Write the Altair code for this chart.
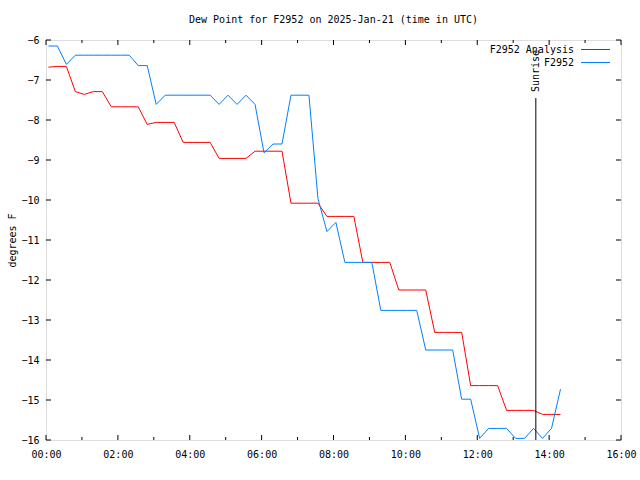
import altair as alt
import pandas as pd

# ---------------- data ----------------
title_text = "Dew Point for F2952 on 2025-Jan-21 (time in UTC)"
series_names = ["F2952 Analysis", "F2952"]
series_colors = ["#ff0000", "#0080ff"]

# sampling grid: minutes after 00:00 UTC
start_minute = 4
step_minute = 15

analysis_vals = [
    -6.68, -6.66, -6.66, -7.29, -7.36, -7.29, -7.29, -7.67, -7.67, -7.67,
    -7.67, -8.11, -8.06, -8.06, -8.06, -8.56, -8.56, -8.56, -8.56, -8.96,
    -8.96, -8.96, -8.96, -8.78, -8.78, -8.78, -8.78, -10.08, -10.08, -10.08,
    -10.08, -10.41, -10.41, -10.41, -10.41, -11.56, -11.56, -11.56, -11.56, -12.25,
    -12.25, -12.25, -12.25, -13.31, -13.31, -13.31, -13.31, -14.64, -14.64, -14.64,
    -14.64, -15.26, -15.26, -15.26, -15.26, -15.36, -15.36, -15.36,
]
obs_vals = [
    -6.15, -6.15, -6.61, -6.38, -6.38, -6.38, -6.38, -6.38, -6.38, -6.38,
    -6.64, -6.64, -7.61, -7.38, -7.38, -7.38, -7.38, -7.38, -7.38, -7.61,
    -7.38, -7.61, -7.38, -7.61, -8.82, -8.60, -8.60, -7.38, -7.38, -7.38,
    -9.96, -10.79, -10.56, -11.56, -11.56, -11.56, -11.56, -12.76, -12.76, -12.76,
    -12.76, -12.76, -13.75, -13.75, -13.75, -13.75, -14.98, -14.98, -15.96, -15.71,
    -15.71, -15.71, -15.96, -15.96, -15.71, -15.96, -15.71, -14.73,
]

x_major = [0, 2, 4, 6, 8, 10, 12, 14, 16]
x_minor = [1, 3, 5, 7, 9, 11, 13, 15]
y_ticks = [-16, -15, -14, -13, -12, -11, -10, -9, -8, -7, -6]

sunrise_hour = 13.63
sunrise_top = -7.45

# ---------------- frames ----------------
def series_frame(vals):
    return pd.DataFrame({
        "h": [(start_minute + step_minute * i) / 60.0 for i in range(len(vals))],
        "v": vals,
    })

df_an = series_frame(analysis_vals)
df_ob = series_frame(obs_vals)
df_xmaj = pd.DataFrame({"h": x_major})
df_xmin = pd.DataFrame({"h": x_minor})
df_y = pd.DataFrame({"v": y_ticks})
df_sun = pd.DataFrame({"h": [sunrise_hour], "v": [sunrise_top], "v2": [-16.0]})

FONT = "DejaVu Sans Mono"
FS = 10
W, H = 575, 400

xscale = alt.Scale(domain=[0, 16], nice=False, zero=False)
yscale = alt.Scale(domain=[-16, -6], nice=False, zero=False)

X = alt.X("h:Q", scale=xscale, axis=alt.Axis(
    values=x_major, title=None, grid=False, ticks=False, tickSize=0, domain=False,
    labelExpr="(datum.value < 10 ? '0' : '') + datum.value + ':00'",
    labelFont=FONT, labelFontSize=FS, labelColor="black", labelPadding=9,
    labelFlush=False, labelOverlap=False))
Y = alt.Y("v:Q", scale=yscale, axis=alt.Axis(
    values=y_ticks, format="d", grid=False, ticks=False, tickSize=0, domain=False,
    labelFont=FONT, labelFontSize=FS, labelColor="black", labelPadding=7,
    labelFlush=False, labelOverlap=False,
    title="degrees F", titleFont=FONT, titleFontSize=FS, titleFontWeight="normal",
    titleColor="black", titleAngle=270, titleX=-34, titleY=200,
    titleAlign="center", titleBaseline="middle"))

line_an = alt.Chart(df_an).mark_line(color=series_colors[0], strokeWidth=1).encode(x=X, y=Y)
line_ob = alt.Chart(df_ob).mark_line(color=series_colors[1], strokeWidth=1).encode(x=X, y=Y)

tick_color = "black"
xmaj_b = alt.Chart(df_xmaj).mark_rule(color=tick_color, strokeWidth=1).encode(x=X, y=alt.value(H), y2=alt.value(H - 5))
xmaj_t = alt.Chart(df_xmaj).mark_rule(color=tick_color, strokeWidth=1).encode(x=X, y=alt.value(0), y2=alt.value(5))
xmin_b = alt.Chart(df_xmin).mark_rule(color=tick_color, strokeWidth=1).encode(x=X, y=alt.value(H), y2=alt.value(H - 3))
xmin_t = alt.Chart(df_xmin).mark_rule(color=tick_color, strokeWidth=1).encode(x=X, y=alt.value(0), y2=alt.value(3))
y_l = alt.Chart(df_y).mark_rule(color=tick_color, strokeWidth=1).encode(y=Y, x=alt.value(0), x2=alt.value(5))
y_r = alt.Chart(df_y).mark_rule(color=tick_color, strokeWidth=1).encode(y=Y, x=alt.value(W), x2=alt.value(W - 5))

sun_rule = alt.Chart(df_sun).mark_rule(color="black", strokeWidth=1).encode(
    x=X, y=Y, y2="v2:Q")
sun_text = alt.Chart(df_sun).mark_text(
    text="Sunrise", angle=270, align="center", baseline="middle",
    font=FONT, fontSize=FS, color="black").encode(x=X, y=alt.value(31))

# legend (gnuplot style: label left of sample line)
leg_layers = []
for i, (name, col) in enumerate(zip(series_names, series_colors)):
    yy = 9.5 + 13 * i
    leg_layers.append(alt.Chart(df_sun).mark_text(
        text=name, align="right", baseline="middle", font=FONT, fontSize=FS,
        color="black").encode(x=alt.value(528), y=alt.value(yy)))
    leg_layers.append(alt.Chart(df_sun).mark_rule(color=col, strokeWidth=1).encode(
        x=alt.value(535), x2=alt.value(564), y=alt.value(yy), y2=alt.value(yy)))

chart = alt.layer(
    line_an, line_ob, xmaj_b, xmaj_t, xmin_b, xmin_t, y_l, y_r,
    sun_rule, sun_text, *leg_layers
).properties(
    width=W, height=H,
    title=alt.TitleParams(title_text, font=FONT, fontSize=FS, fontWeight="normal",
                          color="black", anchor="middle", offset=10),
    autosize=alt.AutoSizeParams(type="none"),
    padding={"left": 46, "top": 40, "right": 19, "bottom": 40},
).configure_view(stroke="black", strokeWidth=1).configure(background="white")

chart.save("out.html", embed_options={"renderer": "svg", "actions": False})
